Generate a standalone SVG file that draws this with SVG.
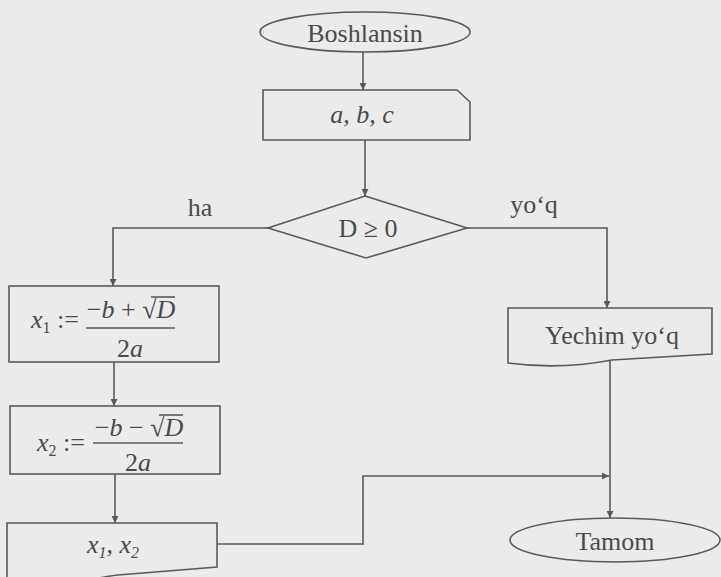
<svg xmlns="http://www.w3.org/2000/svg" width="721" height="577" viewBox="0 0 721 577">
<defs>
<style>
.shape{fill:none;stroke:#5a5a5a;stroke-width:1.6}
.line{fill:none;stroke:#5a5a5a;stroke-width:1.6}
.t{font-family:"Liberation Serif","Times New Roman",serif;font-size:26px;fill:#4a4a4a}
.i{font-style:italic}
.sub{font-size:16px}
</style>
<marker id="arr" viewBox="0 0 10 10" refX="10" refY="5" markerWidth="7" markerHeight="7" markerUnits="userSpaceOnUse" orient="auto">
<path d="M0,0 L10,5 L0,10 Z" fill="#5a5a5a"/>
</marker>
</defs>
<rect width="721" height="577" fill="#ebebeb"/>
<g id="connectors">
<path class="line" d="M363,52 V90" marker-end="url(#arr)"/>
<path class="line" d="M365,140 V196" marker-end="url(#arr)"/>
<path class="line" d="M268,228 H113 V286" marker-end="url(#arr)"/>
<path class="line" d="M467,228 H607 V308" marker-end="url(#arr)"/>
<path class="line" d="M114,362 V406" marker-end="url(#arr)"/>
<path class="line" d="M115,474 V523" marker-end="url(#arr)"/>
<path class="line" d="M610,360 V518" marker-end="url(#arr)"/>
<path class="line" d="M217,544 H363 V476 H609" marker-end="url(#arr)"/>
<text class="t" x="200" y="216" text-anchor="middle">ha</text>
<text class="t" x="534" y="213" text-anchor="middle">yo‘q</text>
</g>
<g id="start">
<ellipse class="shape" cx="365" cy="32" rx="105" ry="20"/>
<text class="t" x="365" y="42" text-anchor="middle">Boshlansin</text>
</g>
<g id="input">
<path class="shape" d="M263,90 H457 L470,102 V140 H263 Z"/>
<text class="t i" x="362" y="123" text-anchor="middle">a, b, c</text>
</g>
<g id="decision">
<path class="shape" d="M365,196 L467,228 L366,258 L268,228 Z"/>
<text class="t" x="368" y="237" text-anchor="middle">D ≥ 0</text>
</g>
<g id="x1">
<rect class="shape" x="9" y="286" width="210" height="76"/>
<text class="t" x="31" y="328"><tspan class="i">x</tspan><tspan class="sub" dy="5">1</tspan><tspan dy="-5"> :=</tspan></text>
<text class="t" x="131" y="318" text-anchor="middle"><tspan>−</tspan><tspan class="i">b</tspan><tspan> + √</tspan><tspan class="i">D</tspan></text>
<line class="line" x1="151" y1="297" x2="175" y2="297"/>
<line class="line" x1="86" y1="328" x2="175" y2="328"/>
<text class="t" x="130" y="357" text-anchor="middle">2<tspan class="i">a</tspan></text>
</g>
<g id="x2">
<rect class="shape" x="10" y="406" width="210" height="68"/>
<text class="t" x="37" y="451"><tspan class="i">x</tspan><tspan class="sub" dy="5">2</tspan><tspan dy="-5"> :=</tspan></text>
<text class="t" x="139" y="436" text-anchor="middle"><tspan>−</tspan><tspan class="i">b</tspan><tspan> − √</tspan><tspan class="i">D</tspan></text>
<line class="line" x1="159" y1="415" x2="183" y2="415"/>
<line class="line" x1="93" y1="443" x2="183" y2="443"/>
<text class="t" x="138" y="471" text-anchor="middle">2<tspan class="i">a</tspan></text>
</g>
<g id="output">
<path class="shape" d="M7,523 H217 V567 L118,575 Q90,578 60,590 L7,590 Z"/>
<text class="t i" x="113" y="553" text-anchor="middle">x<tspan class="sub" dy="5">1</tspan><tspan dy="-5">, x</tspan><tspan class="sub" dy="5">2</tspan></text>
</g>
<g id="nosolution">
<path class="shape" d="M508,308 H712 V354 L612,360 Q560,370 508,363 Z"/>
<text class="t" x="612" y="344" text-anchor="middle">Yechim yo‘q</text>
</g>
<g id="end">
<ellipse class="shape" cx="615" cy="540" rx="105" ry="22"/>
<text class="t" x="615" y="550" text-anchor="middle">Tamom</text>
</g>
</svg>
